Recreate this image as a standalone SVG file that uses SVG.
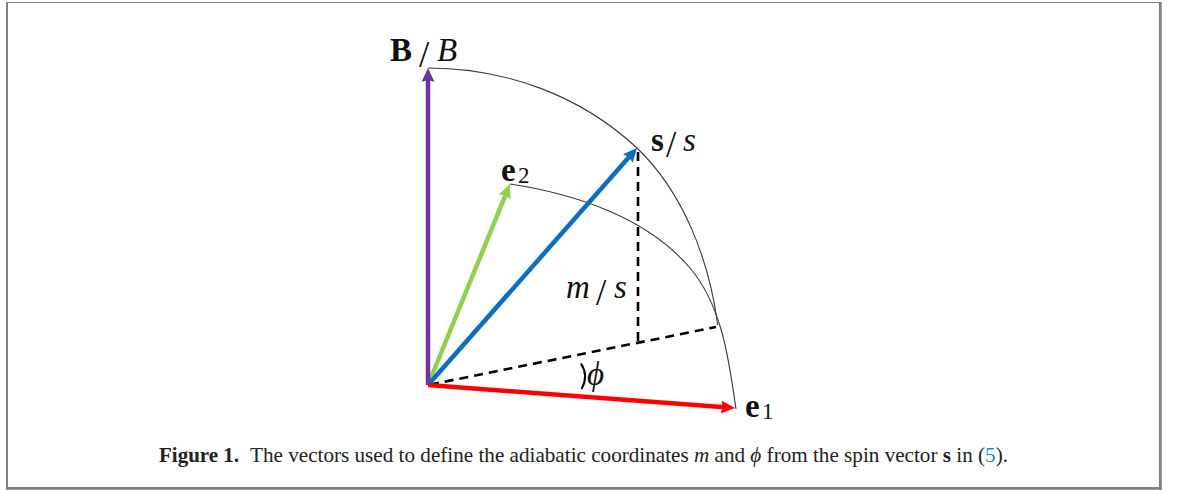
<svg xmlns="http://www.w3.org/2000/svg" width="1179" height="490" viewBox="0 0 1179 490">
  <style>
    .arc { fill: none; stroke: #3a3a3a; stroke-width: 1.1; }
    .dash { fill: none; stroke: #000; stroke-width: 2.6; stroke-dasharray: 9 6; }
    .vec { fill: none; stroke-width: 4.5; stroke-linecap: butt; }
    .lbl { font-family: "Liberation Serif", "Times New Roman", serif; font-size: 33px; fill: #111; }
    .sub { font-family: "Liberation Serif", "Times New Roman", serif; font-size: 23px; fill: #111; }
    .slash { font-family: "Liberation Serif", "Times New Roman", serif; font-size: 37px; fill: #111; }
    .cap { font-family: "Liberation Serif", "Times New Roman", serif; font-size: 21px; fill: #222; }
    .frame { stroke: #808080; fill: none; }
  </style>
  <defs>
    <marker id="ah-purple" markerUnits="userSpaceOnUse" markerWidth="16" markerHeight="14" refX="4" refY="6.5" orient="auto">
      <path d="M0,0 L14,6.5 L0,13 L2,6.5 Z" fill="#7030a0"/>
    </marker>
    <marker id="ah-red" markerUnits="userSpaceOnUse" markerWidth="16" markerHeight="14" refX="4" refY="6.5" orient="auto">
      <path d="M0,0 L14,6.5 L0,13 L2,6.5 Z" fill="#ff0000"/>
    </marker>
    <marker id="ah-green" markerUnits="userSpaceOnUse" markerWidth="16" markerHeight="14" refX="4" refY="6.5" orient="auto">
      <path d="M0,0 L14,6.5 L0,13 L2,6.5 Z" fill="#8fd14f"/>
    </marker>
    <marker id="ah-blue" markerUnits="userSpaceOnUse" markerWidth="16" markerHeight="14" refX="4" refY="6.5" orient="auto">
      <path d="M0,0 L14,6.5 L0,13 L2,6.5 Z" fill="#0a6fc2"/>
    </marker>
  </defs>

  <rect x="0" y="0" width="1179" height="490" fill="#fff"/>

  <g id="frame">
    <line class="frame" x1="7" y1="2.5" x2="1160" y2="2.5" stroke-width="1.2"/>
    <line class="frame" x1="7" y1="2" x2="7" y2="489" stroke-width="2"/>
    <line class="frame" x1="1160.3" y1="2" x2="1160.3" y2="490" stroke-width="2.8"/>
    <line class="frame" x1="6" y1="488.4" x2="1161.5" y2="488.4" stroke-width="2.8"/>
  </g>

  <g id="arcs">
    <path id="outer-arc" class="arc" d="M428,68 C505.2,68 580,95 637,148 C683.8,192.9 709.3,260.5 717.7,325"/>
    <path id="inner-arc" class="arc" d="M510,184 C575.3,193.8 647.2,217.7 690,268 C722.4,306.1 729,360.5 736,409"/>
  </g>

  <g id="connectors">
    <line class="dash" x1="430" y1="384.6" x2="716" y2="327"/>
    <line class="dash" x1="638" y1="152" x2="638" y2="342"/>
    <path id="angle-mark" d="M581,363.5 Q589,376 581.5,389" fill="none" stroke="#000" stroke-width="2"/>
    <line id="vec-e2" class="vec" stroke="#8fd14f" x1="428" y1="385" x2="506.2" y2="193.3" marker-end="url(#ah-green)"/>
    <line id="vec-B" class="vec" stroke="#7030a0" x1="428" y1="385" x2="428" y2="78" marker-end="url(#ah-purple)"/>
    <line id="vec-s" class="vec" stroke="#0a6fc2" x1="428" y1="385" x2="630.4" y2="155.5" marker-end="url(#ah-blue)"/>
    <line id="vec-e1" class="vec" stroke="#ff0000" x1="428" y1="385" x2="725" y2="407.3" marker-end="url(#ah-red)"/>
  </g>

  <g id="label-B">
    <text class="lbl" x="390" y="61" font-weight="bold">B</text>
    <text class="slash" x="419" y="67">/</text>
    <text class="lbl" x="437" y="61" font-style="italic">B</text>
  </g>
  <g id="label-s">
    <text class="lbl" x="651" y="151" font-weight="bold">s</text>
    <text class="slash" x="666" y="157">/</text>
    <text class="lbl" x="683" y="151" font-style="italic">s</text>
  </g>
  <g id="label-e2">
    <text class="lbl" x="501" y="181" font-weight="bold">e</text>
    <text class="sub" x="518" y="183">2</text>
  </g>
  <g id="label-e1">
    <text class="lbl" x="745" y="416.5" font-weight="bold">e</text>
    <text class="sub" x="762" y="419">1</text>
  </g>
  <g id="label-ms">
    <text class="lbl" x="566" y="298" font-style="italic">m</text>
    <text class="slash" x="596" y="305">/</text>
    <text class="lbl" x="614" y="298" font-style="italic">s</text>
  </g>
  <g id="label-phi">
    <text class="lbl" x="587" y="385" font-style="italic">ϕ</text>
  </g>

  <g id="caption">
    <text class="cap" x="159" y="461.7" font-size="20" font-weight="bold">Figure 1.</text>
    <text class="cap" x="250" y="461.7" textLength="758" lengthAdjust="spacingAndGlyphs">The vectors used to define the adiabatic coordinates <tspan font-style="italic">m</tspan> and <tspan font-style="italic">ϕ</tspan> from the spin vector <tspan font-weight="bold">s</tspan> in (<tspan fill="#1a8ad4">5</tspan>).</text>
  </g>
</svg>
